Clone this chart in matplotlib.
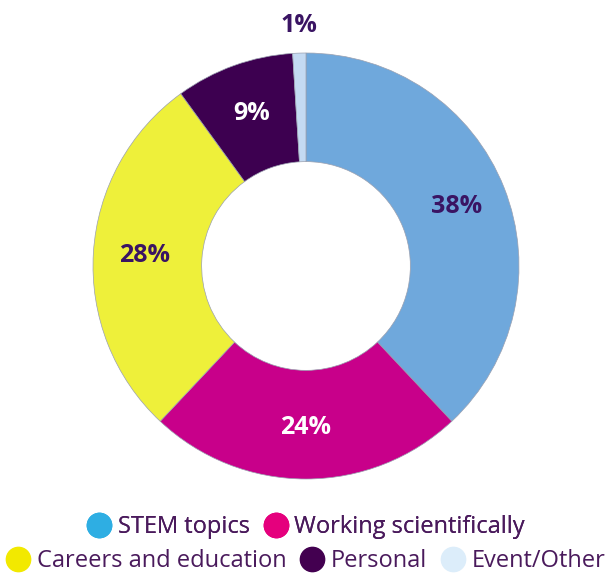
import matplotlib
matplotlib.use('Agg')
import matplotlib.pyplot as plt
from matplotlib.lines import Line2D

plt.rcParams['font.family'] = ['Open Sans', 'DejaVu Sans']

categories = ['STEM topics', 'Working scientifically', 'Careers and education', 'Personal', 'Event/Other']
shares = [38, 24, 28, 9, 1]
slice_colors = ['#6fa8dc', '#c8008a', '#eef03a', '#3d0050', '#c4daf2']
legend_colors = ['#2eaee3', '#e5007d', '#f2e900', '#430050', '#dcedfa']
label_colors = ['#3a1463', 'white', '#3a1463', 'white', '#3a1463']

fig = plt.figure(figsize=(6.12, 5.74), dpi=100)
ax = fig.add_axes([93 / 612, (308 - 213) / 574, 426 / 612, 426 / 574])

wedges, texts, autotexts = ax.pie(
    shares, colors=slice_colors, startangle=90, counterclock=False,
    autopct='%d%%', pctdistance=0.76,
    wedgeprops=dict(width=0.51, edgecolor='#9aa0b0', linewidth=0.5))
for t, c in zip(autotexts, label_colors):
    t.set_color(c)
    t.set_fontsize(18)
    t.set_fontweight('bold')
# the tiny slice gets its label outside the ring
x, y = autotexts[-1].get_position()
autotexts[-1].set_position((x / 0.76 * 1.13, y / 0.76 * 1.13))
ax.set_xlim(-1, 1)
ax.set_ylim(-1, 1)
ax.set_aspect('equal')
ax.axis('off')

handles = [Line2D([], [], marker='o', linestyle='', markersize=17.5,
                  markerfacecolor=c, markeredgecolor=c) for c in legend_colors]
txt = '#4a1a5c'
leg1 = fig.legend(handles[:2], categories[:2], loc='center', bbox_to_anchor=(0.5, 1 - 527 / 574),
                  ncol=2, frameon=False, fontsize=17, handletextpad=0.3, columnspacing=0.6,
                  handlelength=1.0, borderpad=0)
leg2 = fig.legend(handles[2:], categories[2:], loc='center', bbox_to_anchor=(0.5, 1 - 561 / 574),
                  ncol=3, frameon=False, fontsize=17, handletextpad=0.3, columnspacing=0.6,
                  handlelength=1.0, borderpad=0)
fig.add_artist(leg1)
for leg in (leg1, leg2):
    for t in leg.get_texts():
        t.set_color(txt)

fig.savefig('out.png', dpi=100)
